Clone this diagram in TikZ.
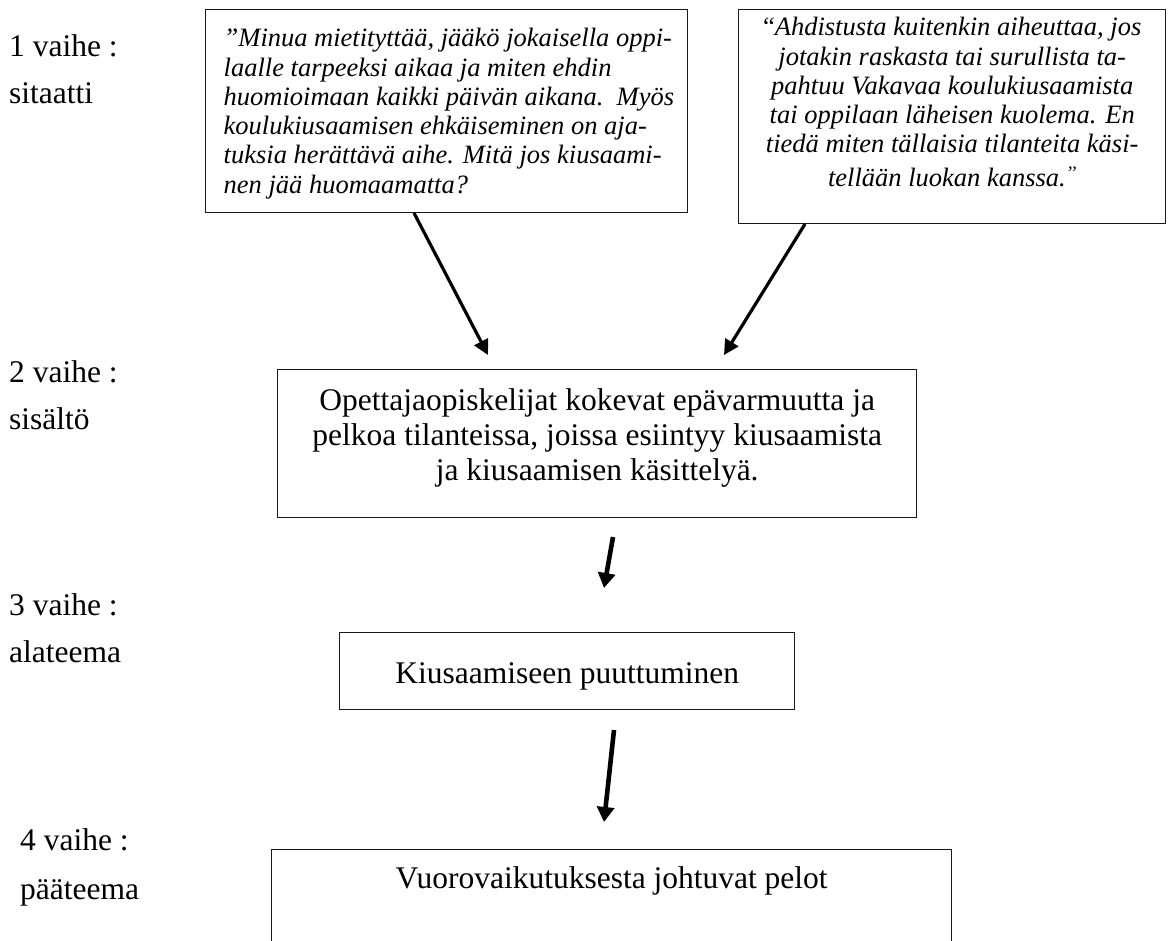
\documentclass[tikz,border=0pt]{standalone}
\usepackage{fontspec}
\setmainfont{Liberation Serif}
\usetikzlibrary{arrows.meta}
\begin{document}
\begin{tikzpicture}[x=1pt,y=-1pt,
  box/.style={draw=black!90, line width=1.4pt, inner sep=0pt, anchor=north west},
  quotetext/.style={font=\fontsize{26.5}{29.3}\selectfont\itshape},
  maintext/.style={font=\fontsize{31.5}{35}\selectfont},
  lab/.style={font=\fontsize{31.5}{35}\selectfont, anchor=base west, inner sep=0pt},
  thinarrow/.style={line width=3.2pt, -{Triangle[length=15pt,width=15pt]}},
  thickarrow/.style={line width=4.6pt, -{Triangle[length=15pt,width=17pt]}},
]
\useasboundingbox (0,0) rectangle (1172,940);
\clip (0,0) rectangle (1172,940);

% stage labels
\node[lab] (l1a) at (9,56) {1 vaihe :};
\node[lab] (l1b) at (9,103) {sitaatti};
\node[lab] (l2a) at (9,382) {2 vaihe :};
\node[lab] (l2b) at (9,429) {sisältö};
\node[lab] (l3a) at (9,615) {3 vaihe :};
\node[lab] (l3b) at (9,662) {alateema};
\node[lab] (l4a) at (20,850) {4 vaihe :};
\node[lab] (l4b) at (20,899) {pääteema};

% quote boxes
\node[box, quotetext] (q1) at (205,9) {\parbox[c][203pt][t]{482pt}{\raggedright\leftskip=18pt\parindent=0pt
\rule{0pt}{37pt}”Minua mietityttää, jääkö jokaisella oppi-\\
laalle tarpeeksi aikaa ja miten ehdin\\
huomioimaan kaikki päivän aikana.\ \ Myös\\
koulukiusaamisen ehkäiseminen on aja-\\
tuksia herättävä aihe. Mitä jos kiusaami-\\
nen jää huomaamatta?}};

\node[box, quotetext] (q2) at (738,9) {\parbox[c][214pt][t]{427pt}{\centering\parindent=0pt
\rule{0pt}{26pt}{\upshape “}Ahdistusta kuitenkin aiheuttaa, jos\\
jotakin raskasta tai surullista ta-\\
pahtuu Vakavaa koulukiusaamista\\
tai oppilaan läheisen kuolema. En\\
tiedä miten tällaisia tilanteita käsi-\\[4pt]
tellään luokan kanssa.\raisebox{7pt}{\fontsize{19}{19}\selectfont ’’}}};

% theme boxes
\node[box, maintext] (b2) at (277,369) {\parbox[c][148pt][t]{639pt}{\centering\parindent=0pt
\rule{0pt}{41pt}Opettajaopiskelijat kokevat epävarmuutta ja\\
pelkoa tilanteissa, joissa esiintyy kiusaamista\\
ja kiusaamisen käsittelyä.}};

\node[box, maintext] (b3) at (339,632) {\parbox[c][77pt][t]{455pt}{\centering\parindent=0pt
\rule{0pt}{51pt}Kiusaamiseen puuttuminen}};

\node[box, maintext] (b4) at (271,849) {\parbox[c][130pt][t]{680pt}{\centering\parindent=0pt
\rule{0pt}{39pt}Vuorovaikutuksesta johtuvat pelot}};

% connector ends
\coordinate (a1s) at (414,213);
\coordinate (a1e) at (488,355);
\coordinate (a2s) at (805,224);
\coordinate (a2e) at (724,355);
\coordinate (a3s) at (613,537);
\coordinate (a3e) at (604,588);
\coordinate (a4s) at (614,730);
\coordinate (a4e) at (604,822);

\draw[thinarrow] (a1s) -- (a1e);
\draw[thinarrow] (a2s) -- (a2e);
\draw[thickarrow] (a3s) -- (a3e);
\draw[thickarrow] (a4s) -- (a4e);
\end{tikzpicture}
\end{document}
